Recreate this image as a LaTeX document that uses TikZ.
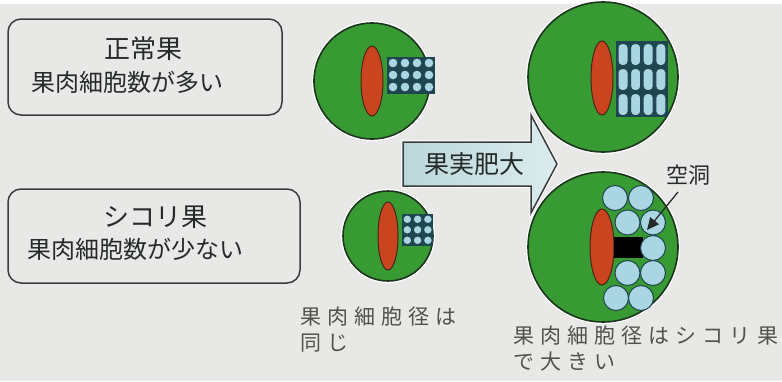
\documentclass[tikz,border=0pt]{standalone}
\usepackage{fontspec}
\newfontfamily\jp{Noto Sans CJK JP}
\newfontfamily\jpwide[LetterSpace=29]{Noto Sans CJK JP}
\usetikzlibrary{arrows.meta}
\definecolor{bg}{HTML}{E8E9E7}
\definecolor{fruit}{HTML}{389A33}
\definecolor{fruitline}{HTML}{1C361E}
\definecolor{seed}{HTML}{C9441F}
\definecolor{seedline}{HTML}{4A2414}
\definecolor{cell}{HTML}{A9D6E2}
\definecolor{cellline}{HTML}{1F4550}
\definecolor{ink}{HTML}{262B29}
\definecolor{note}{HTML}{505250}
\definecolor{panelline}{HTML}{3A3D3B}
\definecolor{arrowl}{HTML}{BAD7DB}
\definecolor{arrowr}{HTML}{DCECEE}
\begin{document}
\begin{tikzpicture}[x=1pt,y=-1pt,
  panel/.style={draw=panelline, line width=1.5pt, rounded corners=13pt, fill=bg},
  title/.style={font=\jp\fontsize{26}{30}\selectfont, text=ink, inner sep=0pt},
  subtitle/.style={font=\jp\fontsize{24}{28}\selectfont, text=ink, inner sep=0pt, anchor=west},
  fruitbody/.style={circle, fill=fruit, draw=fruitline, line width=1.6pt, inner sep=0pt,
    preaction={draw=white, line width=4pt}},
  seedbody/.style={fill=seed, draw=seedline, line width=1pt},
  cellbody/.style={fill=cell, draw=cellline, line width=1pt},
  gap/.style={fill=cellline},
  notetext/.style={font=\jpwide\fontsize{21}{26}\selectfont, text=note, align=left, anchor=north west, inner sep=0pt},
]
% page
\fill[bg] (0,0) rectangle (782,377);

% labels on the left
\node[panel, minimum width=274pt, minimum height=96pt] (normalbox) at (145,63) {};
\node[title] (normaltitle) at (143,45) {正常果};
\node[subtitle] (normalsub) at (31,78) {果肉細胞数が多い};

\node[panel, minimum width=292pt, minimum height=94pt] (lumpbox) at (154,232) {};
\node[title] (lumptitle) at (155,213) {シコリ果};
\node[subtitle] (lumpsub) at (27,245) {果肉細胞数が少ない};

% normal fruit, young
\node[fruitbody, minimum size=116pt] (young1) at (372,77) {};
\draw[seedbody] (372,77) ellipse [x radius=11pt, y radius=35pt];
\fill[gap] (387,53) rectangle (435,90);
\foreach \i in {0,...,3}
  \foreach \j in {0,1,2}
    \draw[cellbody] (393+12*\i,59+12*\j) circle [radius=5pt];

% lump fruit, young
\node[fruitbody, minimum size=90pt] (young2) at (388,232) {};
\draw[seedbody] (388,232) ellipse [x radius=10pt, y radius=34pt];
\fill[gap] (402,210) rectangle (433,242);
\foreach \i in {0,1,2}
  \foreach \j in {0,1,2}
    \draw[cellbody] (407.3+10.3*\i,215.3+10.5*\j) circle [radius=4.4pt];

% normal fruit, grown
\node[fruitbody, minimum size=150pt] (grown1) at (603,73) {};
\draw[seedbody] (602,74) ellipse [x radius=11pt, y radius=37pt];
\fill[gap] (616,37) rectangle (668,113);
\foreach \i in {0,...,3}
  \foreach \j in {0,1,2}
    \draw[cellbody, rounded corners=4pt] (618+12.6*\i,39.5+25*\j) rectangle ++(10,22);

% lump fruit, grown
\node[fruitbody, minimum size=150pt] (grown2) at (603,243) {};
\draw[seedbody] (602,243) ellipse [x radius=12pt, y radius=38pt];
\fill[black] (614,233) rectangle (643,254);
\foreach \p in {(615,194),(641,194),(627.5,218.5),(653,218.5),(653,244),
                (627.5,269),(653,269),(616,294),(641,294)}
  \draw[cellbody] \p circle [radius=12.5pt];

% cavity label
\node[font=\jp\fontsize{22}{26}\selectfont, text=ink, inner sep=0pt] (cavity) at (688,171) {空洞};
\coordinate (lead) at (678,188);
\coordinate (hole) at (647,226);
\draw[line width=1.3pt, ink, -{Triangle[length=12pt,width=11pt]}] (lead) -- (hole);

% growth arrow
\draw[draw=panelline, line width=1.5pt, left color=arrowl, right color=arrowr,
      preaction={draw=white, line width=3.5pt}]
  (403,138) -- (531,138) -- (531,111) -- (557,160) -- (531,209) -- (531,182) -- (403,182) -- cycle;
\node[font=\jp\fontsize{25}{29}\selectfont, text=ink, inner sep=0pt] (growth) at (474,160) {果実肥大};

% notes under the fruits
\node[notetext] (samesize) at (300,303) {果肉細胞径は\\同じ};
\node[notetext] (largesize) at (513,322) {果肉細胞径はシコリ果\\で大きい};
\end{tikzpicture}
\end{document}
